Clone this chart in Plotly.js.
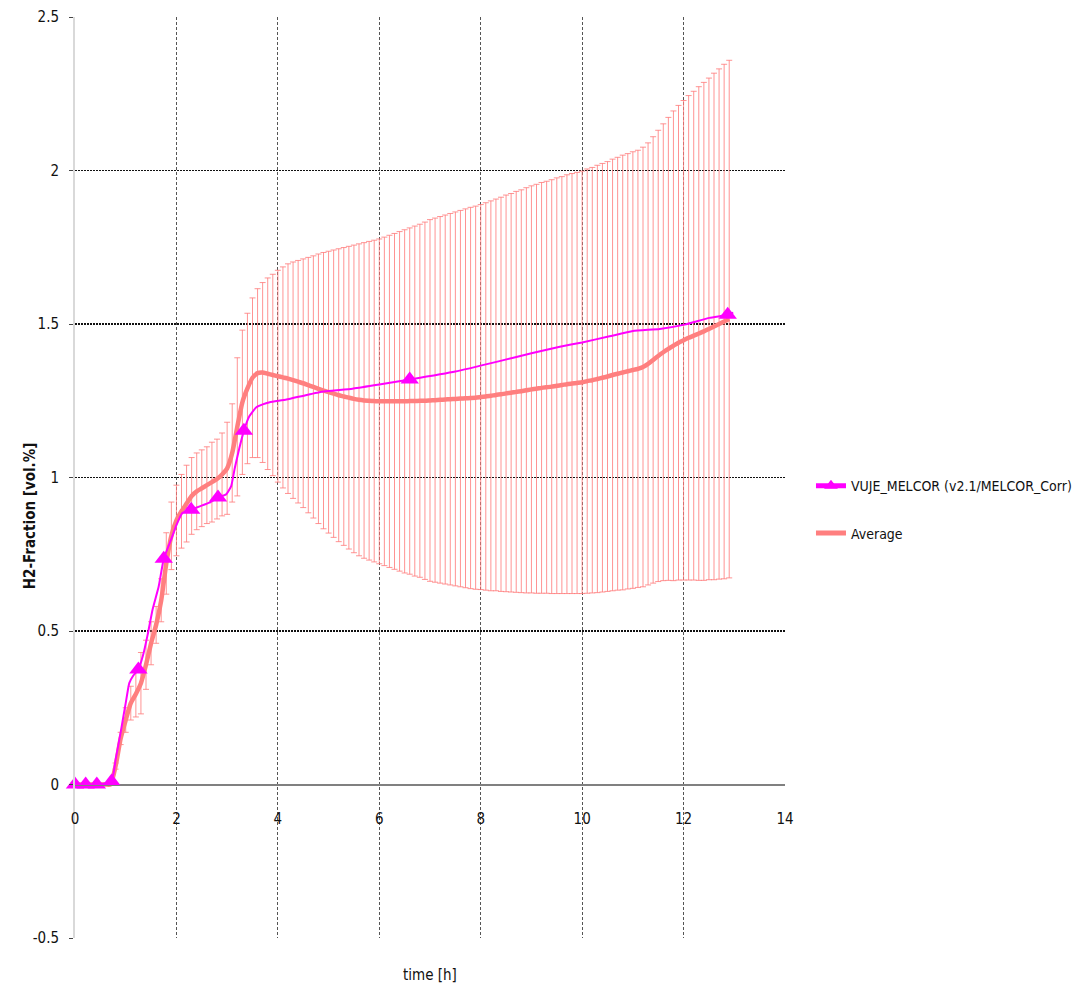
<!DOCTYPE html>
<html>
<head>
<meta charset="utf-8">
<script src="https://cdn.plot.ly/plotly-3.0.1.min.js"></script>
<style>html,body{margin:0;padding:0;background:#fff;}#chart{width:1081px;height:993px;}</style>
</head>
<body>
<div id="chart"></div>
<script>
// VUJE_MELCOR series (time [h], H2 fraction [vol.%])
const vujeT = [0, 0.21, 0.43, 0.72, 0.8, 0.9, 1.0, 1.07, 1.15, 1.25, 1.34, 1.44, 1.53, 1.65, 1.75, 1.9, 2.0, 2.12, 2.29, 2.46, 2.65, 2.82, 2.98, 3.08, 3.15, 3.24, 3.33, 3.44, 3.57, 3.7, 3.84, 4.17, 4.82, 5.47, 6.0, 6.6, 7.5, 8.37, 9.0, 9.56, 10.0, 10.54, 11.0, 11.53, 12.02, 12.51, 12.87, 12.98];
const vujeY = [0, 0, 0, 0.01, 0.08, 0.17, 0.265, 0.33, 0.355, 0.375, 0.42, 0.494, 0.57, 0.645, 0.735, 0.8, 0.845, 0.885, 0.895, 0.906, 0.918, 0.935, 0.945, 0.972, 1.03, 1.095, 1.152, 1.2, 1.228, 1.238, 1.245, 1.254, 1.278, 1.289, 1.303, 1.319, 1.345, 1.379, 1.405, 1.426, 1.44, 1.46, 1.477, 1.484, 1.498, 1.52, 1.53, 1.537];
// times at which the VUJE series shows a triangle marker
const vujeMarkT = [0, 0.21, 0.43, 0.72, 1.25, 1.75, 2.29, 2.82, 3.33, 6.6, 12.87];

// Average series with symmetric spread (error bars)
const avgT = [0, 0.1, 0.2, 0.3, 0.4, 0.5, 0.6, 0.7,
  0.8, 0.9, 1.0, 1.1, 1.2, 1.3, 1.4, 1.5, 1.6, 1.7, 1.8, 1.9,
  2.0, 2.1, 2.2, 2.3, 2.4, 2.5, 2.6, 2.7, 2.8, 2.9,
  3.0, 3.1, 3.2, 3.3, 3.4, 3.5, 3.6, 3.7, 3.8, 3.9,
  4.0, 4.1, 4.2, 4.3, 4.4, 4.5, 4.6, 4.7, 4.8, 4.9,
  5.0, 5.1, 5.2, 5.3, 5.4, 5.5, 5.6, 5.7, 5.8, 5.9,
  6.0, 6.1, 6.2, 6.3, 6.4, 6.5, 6.6, 6.7, 6.8, 6.9,
  7.0, 7.1, 7.2, 7.3, 7.4, 7.5, 7.6, 7.7, 7.8, 7.9,
  8.0, 8.1, 8.2, 8.3, 8.4, 8.5, 8.6, 8.7, 8.8, 8.9,
  9.0, 9.1, 9.2, 9.3, 9.4, 9.5, 9.6, 9.7, 9.8, 9.9,
  10.0, 10.1, 10.2, 10.3, 10.4, 10.5, 10.6, 10.7, 10.8, 10.9,
  11.0, 11.1, 11.2, 11.3, 11.4, 11.5, 11.6, 11.7, 11.8, 11.9,
  12.0, 12.1, 12.2, 12.3, 12.4, 12.5, 12.6, 12.7, 12.8, 12.9];
const avgY = [0, 0, 0, 0, 0, 0, 0, 0,
  0.06, 0.15, 0.21, 0.265, 0.295, 0.33, 0.39, 0.46, 0.52, 0.6, 0.72, 0.81,
  0.86, 0.89, 0.915, 0.94, 0.955, 0.965, 0.975, 0.985, 0.995, 1.01,
  1.03, 1.08, 1.165, 1.245, 1.29, 1.325, 1.34, 1.342, 1.338, 1.334,
  1.33, 1.326, 1.322, 1.317, 1.312, 1.307, 1.301, 1.295, 1.289, 1.283,
  1.278, 1.273, 1.268, 1.264, 1.26, 1.256, 1.253, 1.251, 1.25, 1.249,
  1.248, 1.248, 1.248, 1.248, 1.248, 1.248, 1.249, 1.249, 1.25, 1.25,
  1.251, 1.252, 1.253, 1.254, 1.255, 1.256, 1.257, 1.258, 1.259, 1.26,
  1.262, 1.264, 1.266, 1.269, 1.271, 1.274, 1.276, 1.279, 1.281, 1.284,
  1.287, 1.289, 1.292, 1.294, 1.296, 1.299, 1.301, 1.304, 1.306, 1.308,
  1.31, 1.314, 1.317, 1.321, 1.325, 1.329, 1.334, 1.338, 1.342, 1.346,
  1.35, 1.354, 1.36, 1.37, 1.383, 1.396, 1.408, 1.419, 1.429, 1.439,
  1.447, 1.455, 1.462, 1.469, 1.476, 1.484, 1.492, 1.5, 1.508, 1.516];
const avgErr = [null, null, null, null, null, null, null, null,
  0.01, 0.02, 0.04, 0.055, 0.075, 0.1, 0.08, 0.07, 0.06, 0.07, 0.1, 0.11,
  0.115, 0.12, 0.125, 0.125, 0.125, 0.125, 0.125, 0.13, 0.13, 0.135,
  0.15, 0.16, 0.225, 0.235, 0.245, 0.26, 0.275, 0.293, 0.312, 0.328,
  0.345, 0.36, 0.374, 0.385, 0.395, 0.405, 0.416, 0.427, 0.439, 0.45,
  0.459, 0.468, 0.477, 0.485, 0.493, 0.501, 0.508, 0.514, 0.519, 0.524,
  0.529, 0.535, 0.541, 0.547, 0.553, 0.559, 0.564, 0.57, 0.575, 0.582,
  0.589, 0.593, 0.597, 0.601, 0.605, 0.609, 0.613, 0.617, 0.621, 0.624,
  0.627, 0.631, 0.635, 0.638, 0.642, 0.646, 0.649, 0.653, 0.656, 0.66,
  0.663, 0.666, 0.669, 0.671, 0.674, 0.677, 0.679, 0.682, 0.684, 0.686,
  0.688, 0.691, 0.693, 0.696, 0.698, 0.7, 0.703, 0.705, 0.708, 0.709,
  0.711, 0.712, 0.716, 0.72, 0.727, 0.735, 0.744, 0.754, 0.765, 0.773,
  0.781, 0.789, 0.796, 0.804, 0.811, 0.817, 0.825, 0.831, 0.838, 0.843];

const xTickVals = [0, 2, 4, 6, 8, 10, 12, 14];
const yTickVals = [-0.5, 0, 0.5, 1, 1.5, 2, 2.5];
const yTickText = ['-0.5', '0', '0.5', '1', '1.5', '2', '2.5'];

const FONT = '"DejaVu Sans Condensed", "Liberation Sans Narrow", sans-serif';

const markSizes = vujeT.map(t => vujeMarkT.some(m => Math.abs(m - t) < 1e-9) ? 16 : 0);

const traces = [
  {
    x: avgT, y: avgY, name: 'Average', type: 'scatter', mode: 'lines',
    legendgroup: 'avg', legendrank: 2,
    line: {color: '#ff7f7f', width: 4.5, shape: 'spline', smoothing: 0.5},
    error_y: {type: 'data', array: avgErr, symmetric: true, visible: true,
              color: 'rgba(255,120,120,0.8)', thickness: 1, width: 3}
  },
  {
    x: vujeT, y: vujeY, name: 'VUJE_MELCOR (v2.1/MELCOR_Corr)', type: 'scatter', mode: 'lines+markers',
    legendgroup: 'vuje', legendrank: 1, cliponaxis: false,
    line: {color: '#ff00ff', width: 2, shape: 'spline', smoothing: 0.4},
    marker: {symbol: 'triangle-up', color: '#ff00ff', opacity: 1, size: markSizes, line: {width: 0}}
  }
];

const layout = {
  width: 1081, height: 993,
  margin: {l: 75, r: 296, t: 17, b: 55, autoexpand: false},
  paper_bgcolor: '#ffffff', plot_bgcolor: '#ffffff',
  font: {family: FONT, size: 15, color: '#111'},
  showlegend: true,
  legend: {x: 1.0366, xanchor: 'left', y: 0.465, yanchor: 'middle',
           traceorder: 'grouped', tracegroupgap: 26, itemsizing: 'constant',
           font: {family: FONT, size: 14, color: '#111'}, bgcolor: 'rgba(0,0,0,0)'},
  xaxis: {
    range: [0, 14], tickvals: xTickVals, showgrid: true,
    gridcolor: '#555', griddash: '3px,2px', gridwidth: 1,
    zeroline: false, anchor: 'free', position: 1/6,
    showline: true, linecolor: '#808080', linewidth: 1.3,
    ticks: '', ticklabelstandoff: 20,
    tickfont: {family: FONT, size: 15, color: '#111'}
  },
  yaxis: {
    range: [-0.5, 2.5], tickvals: yTickVals, ticktext: yTickText,
    showgrid: true, gridcolor: '#111', griddash: '2px,1px', gridwidth: 1.2,
    zeroline: true, zerolinecolor: '#808080', zerolinewidth: 1.3,
    showline: true, linecolor: '#d9d9d9', linewidth: 2,
    ticks: 'outside', ticklen: 4, tickcolor: '#444', ticklabelstandoff: 7,
    tickfont: {family: FONT, size: 15, color: '#111'}
  },
  annotations: [
    {text: 'H2-Fraction [vol.%]', xref: 'paper', yref: 'paper', x: -0.0634, y: 0.459,
     xanchor: 'center', yanchor: 'middle', textangle: -90, showarrow: false,
     font: {family: FONT, size: 15, color: '#111', weight: 'bold'}},
    {text: 'time [h]', xref: 'paper', yref: 'paper', x: 0.5, y: -0.04,
     xanchor: 'center', yanchor: 'middle', showarrow: false,
     font: {family: FONT, size: 15, color: '#111'}}
  ]
};

Plotly.newPlot('chart', traces, layout, {displayModeBar: false, staticPlot: true});
</script>
</body>
</html>
